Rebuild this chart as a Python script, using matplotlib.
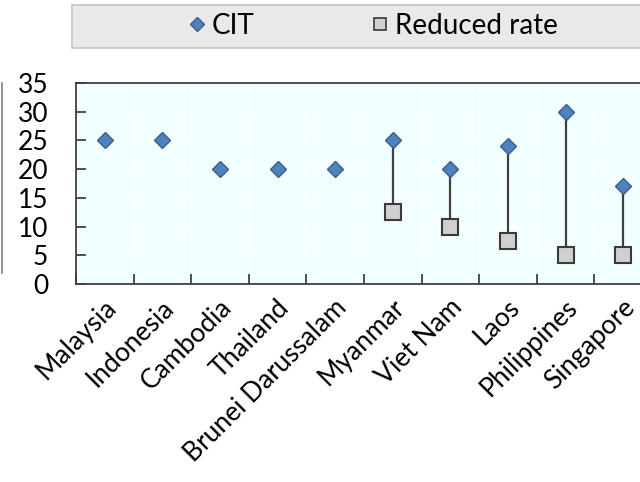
import numpy as np
import matplotlib
matplotlib.use("Agg")
import matplotlib.pyplot as plt
from matplotlib.patches import Rectangle
from matplotlib.lines import Line2D
from matplotlib.transforms import ScaledTranslation

plt.rcParams['font.family'] = ['Lato', 'DejaVu Sans']

countries = ["Malaysia", "Indonesia", "Cambodia", "Thailand", "Brunei Darussalam",
             "Myanmar", "Viet Nam", "Laos", "Philippines", "Singapore"]
cit = [25, 25, 20, 20, 20, 25, 20, 24, 30, 17]
reduced = [np.nan, np.nan, np.nan, np.nan, np.nan, 12.5, 10, 7.5, 5, 5]
y_ticks = [0, 5, 10, 15, 20, 25, 30, 35]

fig = plt.figure(figsize=(6.4, 4.82), dpi=100)
ax = fig.add_axes([76 / 640, 1 - 284 / 482, 576 / 640, 201 / 482])
ax.set_facecolor("#f2ffff")

x = np.arange(len(countries))
cit_arr = np.array(cit, dtype=float)
red_arr = np.array(reduced, dtype=float)
has_red = ~np.isnan(red_arr)

# high-low connectors between the two rates
ax.vlines(x[has_red], red_arr[has_red], cit_arr[has_red], color="#404040", lw=1.6, zorder=2)

ax.plot(x, cit_arr, linestyle="none", marker="D", markersize=8.5,
        markerfacecolor="#4f81bd", markeredgecolor="#3a5f8c", markeredgewidth=1.0,
        zorder=3, label="CIT")
ax.plot(x[has_red], red_arr[has_red], linestyle="none", marker="s", markersize=12,
        markerfacecolor="#d0d0d0", markeredgecolor="#3a3a3a", markeredgewidth=1.5,
        zorder=3, label="Reduced rate")

ax.set_xlim(-0.5, len(countries) - 0.5)
ax.set_ylim(0, 35)

# category boundaries as ticks, labels at centres
ax.set_xticks(np.arange(len(countries) + 1) - 0.5)
ax.set_xticklabels([])
ax.set_xticks(x, minor=True)
ax.set_xticklabels(countries, minor=True, rotation=45, ha="right", va="center",
                   rotation_mode="anchor", fontsize=19)
ax.tick_params(axis="x", which="minor", length=0, pad=14)
ax.tick_params(axis="x", which="major", direction="in", length=7, width=1.3, color="#404040")
for lbl in ax.get_xticklabels(minor=True):
    lbl.set_transform(lbl.get_transform() + ScaledTranslation(8 / 100, 0, fig.dpi_scale_trans))

ax.set_yticks(y_ticks)
ax.set_yticklabels([str(v) for v in y_ticks], fontsize=19)
ax.tick_params(axis="y", direction="in", length=7, width=1.3, color="#404040", pad=20)

ax.grid(True, which="major", color="white", lw=1.0)
ax.set_axisbelow(True)
for side in ["left", "bottom", "top", "right"]:
    ax.spines[side].set_color("#404040")
    ax.spines[side].set_linewidth(1.3)

# legend band across the top
fig.patches.append(Rectangle((72 / 640, 1 - 48 / 482), 0.95, 43 / 482,
                             transform=fig.transFigure, facecolor="#e9e9e9",
                             edgecolor="#c4c4c4", lw=1.2, zorder=0))
handles = [
    Line2D([], [], linestyle="none", marker="D", markersize=7,
           markerfacecolor="#4f81bd", markeredgecolor="#3a5f8c"),
    Line2D([], [], linestyle="none", marker="s", markersize=9,
           markerfacecolor="#d0d0d0", markeredgecolor="#3a3a3a", markeredgewidth=1.2),
]
fig.legend(handles, ["CIT", "Reduced rate"], loc="center",
           bbox_to_anchor=(371 / 640, 1 - 26 / 482), ncol=2, frameon=False,
           fontsize=20, handletextpad=0.1, columnspacing=4.05, handlelength=0.9)

# edge of the neighbouring panel
fig.add_artist(Line2D([1.5 / 640, 1.5 / 640], [1 - 83 / 482, 1 - 273 / 482],
                      transform=fig.transFigure, color="#808080", lw=1.2))

fig.savefig("out.png", dpi=100)
